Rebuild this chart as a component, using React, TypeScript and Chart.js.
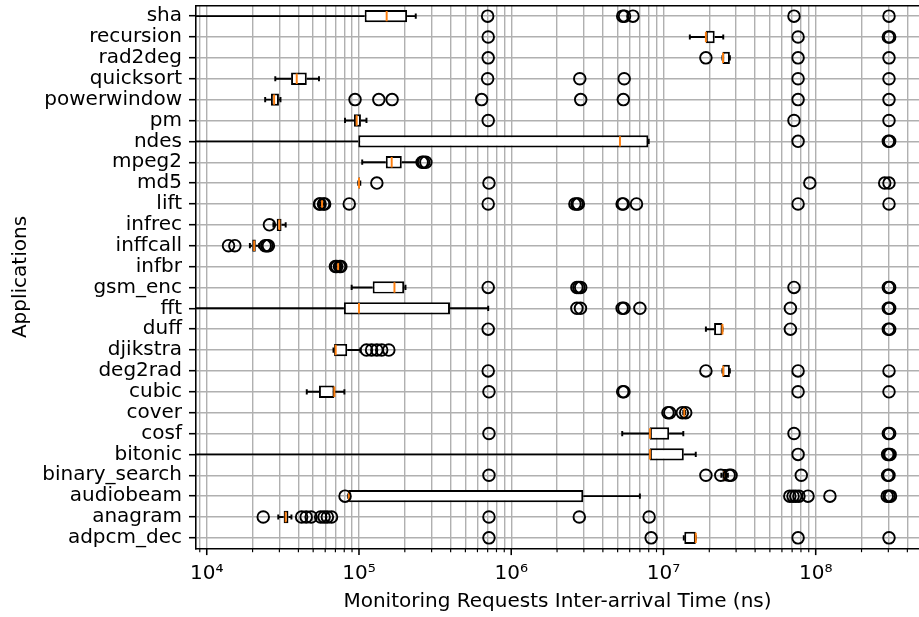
import React, { useEffect, useRef } from 'react';
import { Chart, registerables } from 'chart.js';

Chart.register(...registerables);

// Benchmarks, listed top to bottom
const apps = [
  'sha', 'recursion', 'rad2deg', 'quicksort', 'powerwindow', 'pm', 'ndes', 'mpeg2', 'md5', 'lift',
  'infrec', 'inffcall', 'infbr', 'gsm_enc', 'fft', 'duff', 'djikstra', 'deg2rad', 'cubic', 'cover',
  'cosf', 'bitonic', 'binary_search', 'audiobeam', 'anagram', 'adpcm_dec',
];

// Five-number summaries (ns)
const whiskerLow = [
  1e3, 1.49e7, 2.44e7, 2.82e4, 2.42e4, 8.09e4, 1e3, 1.05e5, 9.9e4, 5.6e4,
  2.74e4, 1.92e4, 7.05e4, 8.95e4, 1e3, 1.9e7, 6.8e4, 2.44e7, 4.54e4, 1.35e7,
  5.36e6, 1e3, 2.4e7, 8.5e4, 2.95e4, 1.36e7,
];
const q1 = [
  1.09e5, 1.9e7, 2.44e7, 3.58e4, 2.64e4, 9.27e4, 9.9e4, 1.5e5, 9.95e4, 5.65e4,
  2.88e4, 1.99e4, 7.2e4, 1.23e5, 7.96e4, 2.15e7, 6.86e4, 2.44e7, 5.46e4, 1.36e7,
  8.15e6, 8.15e6, 2.44e7, 8.5e4, 3.2e4, 1.37e7,
];
const medians = [
  1.52e5, 1.9e7, 2.46e7, 3.9e4, 2.77e4, 9.66e4, 5.18e6, 1.64e5, 1.0e5, 5.72e4,
  3.0e4, 2.05e4, 7.3e4, 1.71e5, 1.0e5, 2.44e7, 7.03e4, 2.47e7, 6.89e4, 1.37e7,
  8.15e6, 8.15e6, 2.5e7, 8.6e4, 3.3e4, 1.63e7,
];
const q3 = [
  2.07e5, 2.17e7, 2.73e7, 4.54e4, 2.98e4, 1.03e5, 7.95e6, 1.91e5, 1.01e5, 5.8e4,
  3.1e4, 2.1e4, 7.4e4, 1.98e5, 3.96e5, 2.44e7, 8.37e4, 2.73e7, 6.89e4, 1.38e7,
  1.09e7, 1.36e7, 2.6e7, 2.97e6, 3.44e4, 1.63e7,
];
const whiskerHigh = [
  2.36e5, 2.47e7, 2.73e7, 5.46e4, 3.05e4, 1.12e5, 8.0e6, 2.4e5, 1.02e5, 5.9e4,
  3.3e4, 2.21e4, 7.5e4, 2.02e5, 7.06e5, 2.44e7, 1.02e5, 2.73e7, 8.02e4, 1.39e7,
  1.35e7, 1.63e7, 2.65e7, 7.0e6, 3.6e4, 1.63e7,
];

// Outliers per benchmark (ns)
const fliers: number[][] = [
  [7.0e5, 5.4e6, 5.55e6, 6.3e6, 7.2e7, 3.03e8],
  [7.06e5, 7.66e7, 3.0e8, 3.06e8],
  [7.06e5, 1.9e7, 7.66e7, 3.03e8],
  [7.0e5, 2.82e6, 5.52e6, 7.66e7, 3.03e8],
  [9.42e4, 1.35e5, 1.65e5, 6.39e5, 2.86e6, 5.45e6, 7.66e7, 3.03e8],
  [7.06e5, 7.2e7, 3.03e8],
  [7.66e7, 3.0e8, 3.06e8],
  [2.6e5, 2.66e5, 2.75e5],
  [1.31e5, 7.14e5, 9.15e7, 2.84e8, 3.03e8],
  [5.5e4, 5.55e4, 5.85e4, 5.95e4, 8.63e4, 7.06e5, 2.62e6, 2.7e6, 2.76e6, 5.35e6, 5.45e6, 6.65e6, 7.66e7, 3.03e8],
  [2.58e4],
  [1.39e4, 1.53e4, 2.42e4, 2.48e4, 2.54e4],
  [7.0e4, 7.15e4, 7.45e4, 7.6e4],
  [7.06e5, 2.7e6, 2.78e6, 2.86e6, 7.2e7, 3.0e8, 3.06e8],
  [2.7e6, 2.85e6, 5.35e6, 5.5e6, 7.0e6, 6.82e7, 3.0e8, 3.06e8],
  [7.06e5, 6.82e7, 3.0e8, 3.06e8],
  [1.12e5, 1.21e5, 1.31e5, 1.41e5, 1.57e5],
  [7.06e5, 1.9e7, 7.66e7, 3.03e8],
  [7.14e5, 5.4e6, 5.5e6, 7.66e7, 3.03e8],
  [1.07e7, 1.1e7, 1.33e7, 1.4e7],
  [7.14e5, 7.2e7, 3.0e8, 3.06e8],
  [7.66e7, 2.97e8, 3.03e8, 3.08e8],
  [7.14e5, 1.9e7, 2.38e7, 2.7e7, 2.78e7, 8.04e7, 2.97e8, 3.03e8],
  [8.1e4, 6.76e7, 7.1e7, 7.4e7, 7.76e7, 8.9e7, 1.24e8, 2.95e8, 3.03e8, 3.1e8],
  [2.35e4, 4.2e4, 4.5e4, 4.85e4, 5.6e4, 5.9e4, 6.2e4, 6.6e4, 7.14e5, 2.8e6, 8.05e6],
  [7.14e5, 8.3e6, 7.66e7, 3.03e8],
];

// Axis range and tick labels
const xMin = 8.5e3;
const xMax = 4.77e8;
const majorTicks = [1e4, 1e5, 1e6, 1e7, 1e8];
const majorTickLabels = ['10⁴', '10⁵', '10⁶', '10⁷', '10⁸'];

const FONT = 'DejaVu Sans';
const FONT_SIZE = 20;
const LINE_W = 1.95;
const MEDIAN_COLOR = '#ff7f0e';
const GRID_COLOR = '#b0b0b0';

function allTicks(): number[] {
  const out: number[] = [];
  for (let e = 3; e <= 8; e++) {
    for (let m = 1; m <= 9; m++) {
      const v = m * Math.pow(10, e);
      if (v >= xMin && v <= xMax) out.push(v);
    }
  }
  return out;
}

const boxPlotParts = {
  id: 'boxPlotParts',
  beforeDatasetsDraw(chart: any) {
    const { ctx, chartArea: a, scales } = chart;
    const x = scales.x;
    const y = scales.y;
    const unit = Math.abs(y.getPixelForValue(1) - y.getPixelForValue(0));
    const cap = unit * 0.125;
    ctx.save();
    ctx.beginPath();
    ctx.rect(a.left, a.top, a.right - a.left, a.bottom - a.top);
    ctx.clip();
    ctx.strokeStyle = '#000';
    ctx.lineWidth = LINE_W;
    apps.forEach((_, i) => {
      const cy = y.getPixelForValue(i);
      const lo = x.getPixelForValue(whiskerLow[i]);
      const hi = x.getPixelForValue(whiskerHigh[i]);
      const b0 = x.getPixelForValue(q1[i]);
      const b1 = x.getPixelForValue(q3[i]);
      ctx.beginPath();
      ctx.moveTo(lo, cy);
      ctx.lineTo(b0, cy);
      ctx.moveTo(b1, cy);
      ctx.lineTo(hi, cy);
      ctx.moveTo(lo, cy - cap);
      ctx.lineTo(lo, cy + cap);
      ctx.moveTo(hi, cy - cap);
      ctx.lineTo(hi, cy + cap);
      ctx.stroke();
    });
    ctx.restore();
  },
  afterDatasetDraw(chart: any, args: any) {
    if (args.index !== 0) return;
    const { ctx, chartArea: a, scales } = chart;
    const x = scales.x;
    const y = scales.y;
    const unit = Math.abs(y.getPixelForValue(1) - y.getPixelForValue(0));
    const half = unit * 0.25;
    ctx.save();
    ctx.beginPath();
    ctx.rect(a.left, a.top, a.right - a.left, a.bottom - a.top);
    ctx.clip();
    ctx.strokeStyle = MEDIAN_COLOR;
    ctx.lineWidth = LINE_W;
    apps.forEach((_, i) => {
      const cy = y.getPixelForValue(i);
      const mx = x.getPixelForValue(medians[i]);
      ctx.beginPath();
      ctx.moveTo(mx, cy - half);
      ctx.lineTo(mx, cy + half);
      ctx.stroke();
    });
    ctx.restore();
  },
  afterDraw(chart: any) {
    const { ctx, chartArea: a, scales } = chart;
    const x = scales.x;
    ctx.save();
    ctx.strokeStyle = '#000';
    // top spine
    ctx.lineWidth = 1.56;
    ctx.beginPath();
    ctx.moveTo(a.left, a.top);
    ctx.lineTo(a.right, a.top);
    ctx.stroke();
    // bottom tick marks, long for decades and short for the rest
    x.ticks.forEach((t: any) => {
      const px = x.getPixelForValue(t.value);
      const major = majorTicks.includes(t.value);
      ctx.lineWidth = major ? 1.56 : 1.17;
      ctx.beginPath();
      ctx.moveTo(px, a.bottom);
      ctx.lineTo(px, a.bottom + (major ? 6.8 : 3.9));
      ctx.stroke();
    });
    ctx.restore();
  },
};

export default function App() {
  const canvasRef = useRef<HTMLCanvasElement>(null);

  useEffect(() => {
    const canvas = canvasRef.current;
    if (!canvas) return;

    const flierPoints = fliers.flatMap((vals, i) => vals.map((v) => ({ x: v, y: apps[i] })));

    const chart = new Chart(canvas, {
      type: 'bar',
      data: {
        labels: apps,
        datasets: [
          {
            type: 'bar',
            label: 'IQR',
            data: apps.map((_, i) => [q1[i], q3[i]]) as any,
            backgroundColor: '#ffffff',
            borderColor: '#000000',
            borderWidth: LINE_W,
            borderSkipped: false,
            barPercentage: 0.59,
            categoryPercentage: 1.0,
            order: 1,
          } as any,
          {
            type: 'scatter',
            label: 'outliers',
            data: flierPoints as any,
            pointStyle: 'circle',
            pointRadius: 5.8,
            pointBorderWidth: 1.9,
            borderColor: '#000000',
            backgroundColor: 'rgba(0,0,0,0)',
            order: 0,
          } as any,
        ],
      },
      options: {
        indexAxis: 'y',
        animation: false,
        responsive: false,
        devicePixelRatio: 1,
        layout: { autoPadding: false, padding: { top: 5.7, left: 0, right: 0, bottom: 0 } },
        plugins: {
          legend: { display: false },
          tooltip: { enabled: false },
        },
        scales: {
          x: {
            type: 'logarithmic',
            min: xMin,
            max: xMax,
            bounds: 'data',
            afterBuildTicks: (axis: any) => {
              axis.ticks = allTicks().map((v) => ({ value: v, major: majorTicks.includes(v) }));
            },
            afterFit: (axis: any) => {
              axis.height = 68.7;
              axis.paddingLeft = 0;
              axis.paddingRight = 0;
            },
            grid: {
              color: GRID_COLOR,
              lineWidth: 1.4,
              drawTicks: false,
            },
            border: { display: true, color: '#000', width: 1.56 },
            ticks: {
              autoSkip: false,
              maxRotation: 0,
              minRotation: 0,
              padding: 13,
              color: '#000',
              font: { family: FONT, size: FONT_SIZE },
              callback: (value: any) => {
                const k = majorTicks.indexOf(Number(value));
                return k >= 0 ? majorTickLabels[k] : '';
              },
            },
            title: {
              display: true,
              text: 'Monitoring Requests Inter-arrival Time (ns)',
              color: '#000',
              font: { family: FONT, size: FONT_SIZE },
              padding: { top: 0, bottom: 3.6 },
            },
          },
          y: {
            type: 'category',
            offset: true,
            afterFit: (axis: any) => {
              axis.width = 196;
              axis.paddingTop = 0;
              axis.paddingBottom = 0;
            },
            grid: {
              color: GRID_COLOR,
              lineWidth: 1.4,
              offset: false,
              drawTicks: true,
              tickLength: 7,
              tickColor: '#000',
              tickWidth: 1.56,
            },
            border: { display: true, color: '#000', width: 1.56 },
            ticks: {
              autoSkip: false,
              padding: 7,
              color: '#000',
              font: { family: FONT, size: FONT_SIZE },
            },
            title: {
              display: true,
              text: 'Applications',
              color: '#000',
              font: { family: FONT, size: FONT_SIZE },
              padding: { top: 8.5, bottom: 0 },
            },
          },
        },
      },
      plugins: [boxPlotParts],
    });

    return () => chart.destroy();
  }, []);

  return (
    <div style={{ position: 'fixed', left: 0, top: 0, width: 919, height: 617, background: '#ffffff' }}>
      <canvas ref={canvasRef} width={919} height={617} style={{ display: 'block', width: 919, height: 617 }} />
    </div>
  );
}
